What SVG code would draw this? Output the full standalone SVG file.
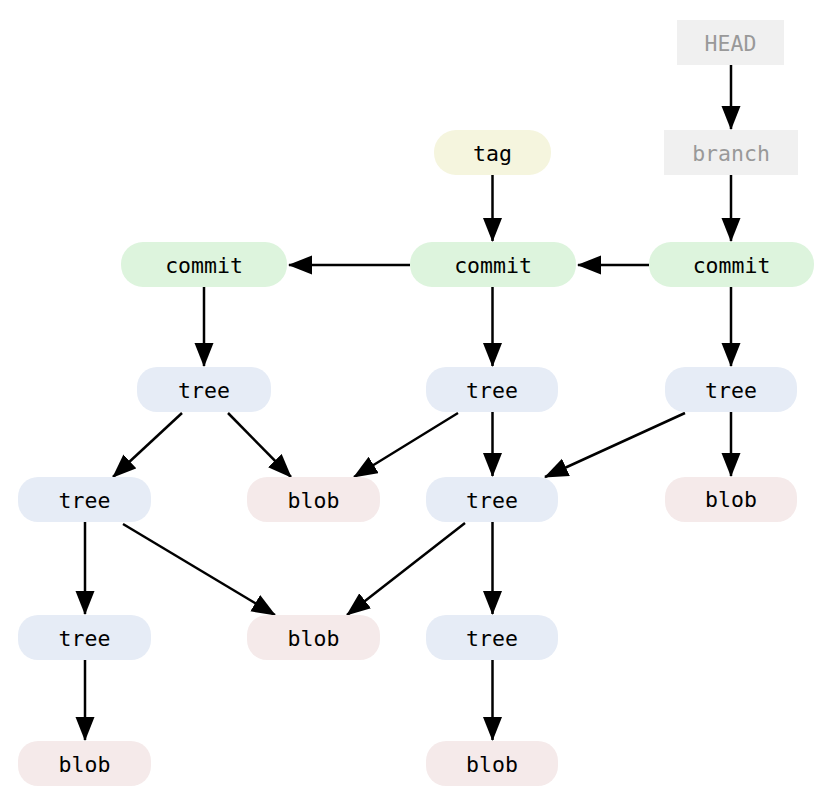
<svg xmlns="http://www.w3.org/2000/svg" width="824" height="805" viewBox="0 0 824 805">
<style>
  .lbl { font-family: "DejaVu Sans Mono", "Liberation Mono", monospace; font-size: 21.5px; text-anchor: middle; fill: #000; }
  .ref { fill: #f0f0f0; }
  .ref-t { fill: #999999; }
  .commit { fill: #ddf4dd; }
  .tree { fill: #e6ecf6; }
  .blob { fill: #f5eaea; }
  .tag { fill: #f5f5de; }
  .edge { stroke: #000; stroke-width: 2.5; fill: none; marker-end: url(#arr); }
</style>
<defs>
  <marker id="arr" markerUnits="userSpaceOnUse" markerWidth="24" markerHeight="20" refX="23" refY="9.5" orient="auto">
    <path d="M0,0 L24,9.5 L0,19 z" fill="#000"/>
  </marker>
</defs>
<rect width="824" height="805" fill="#fff"/>
<g id="connectors">
  <line class="edge" x1="731" y1="65" x2="731" y2="129"/>
  <line class="edge" x1="731" y1="175" x2="731" y2="241"/>
  <line class="edge" x1="492.5" y1="175" x2="492.5" y2="241"/>
  <line class="edge" x1="649" y1="265" x2="578" y2="265"/>
  <line class="edge" x1="410" y1="265" x2="289" y2="265"/>
  <line class="edge" x1="204" y1="287" x2="204" y2="366"/>
  <line class="edge" x1="492.5" y1="287" x2="492.5" y2="366"/>
  <line class="edge" x1="731" y1="287" x2="731" y2="366"/>
  <line class="edge" x1="182" y1="413" x2="113" y2="477"/>
  <line class="edge" x1="228" y1="413" x2="291" y2="477"/>
  <line class="edge" x1="458" y1="413" x2="354" y2="477"/>
  <line class="edge" x1="492.5" y1="412" x2="492.5" y2="476"/>
  <line class="edge" x1="685" y1="413" x2="545" y2="477"/>
  <line class="edge" x1="731" y1="412" x2="731" y2="476"/>
  <line class="edge" x1="85" y1="522" x2="85" y2="614"/>
  <line class="edge" x1="123" y1="524" x2="275" y2="615"/>
  <line class="edge" x1="465" y1="523" x2="347" y2="615"/>
  <line class="edge" x1="492.5" y1="522" x2="492.5" y2="614"/>
  <line class="edge" x1="85" y1="660" x2="85" y2="740"/>
  <line class="edge" x1="492.5" y1="660" x2="492.5" y2="740"/>
</g>
<g id="head"><rect class="ref" x="677" y="20" width="107" height="45"/><text class="lbl ref-t" x="730.5" y="50.5">HEAD</text></g>
<g id="branch"><rect class="ref" x="664" y="130" width="134" height="45"/><text class="lbl ref-t" x="731" y="160.5">branch</text></g>
<g id="tag"><rect class="tag" x="434" y="130" width="117" height="45" rx="22"/><text class="lbl" x="492.5" y="160.5">tag</text></g>
<g id="commit1"><rect class="commit" x="121" y="242" width="166" height="45" rx="22"/><text class="lbl" x="204" y="272.5">commit</text></g>
<g id="commit2"><rect class="commit" x="410" y="242" width="166" height="45" rx="22"/><text class="lbl" x="493" y="272.5">commit</text></g>
<g id="commit3"><rect class="commit" x="649" y="242" width="165" height="45" rx="22"/><text class="lbl" x="731.5" y="272.5">commit</text></g>
<g id="tree1"><rect class="tree" x="137" y="367" width="134" height="45" rx="20"/><text class="lbl" x="204" y="397.5">tree</text></g>
<g id="tree2"><rect class="tree" x="426" y="367" width="132" height="45" rx="20"/><text class="lbl" x="492" y="397.5">tree</text></g>
<g id="tree3"><rect class="tree" x="665" y="367" width="132" height="45" rx="20"/><text class="lbl" x="731" y="397.5">tree</text></g>
<g id="tree4"><rect class="tree" x="18" y="477" width="133" height="45" rx="20"/><text class="lbl" x="84.5" y="507.5">tree</text></g>
<g id="blob1"><rect class="blob" x="247" y="477" width="133" height="45" rx="20"/><text class="lbl" x="313.5" y="507.5">blob</text></g>
<g id="tree5"><rect class="tree" x="426" y="477" width="132" height="45" rx="20"/><text class="lbl" x="492" y="507.5">tree</text></g>
<g id="blob2"><rect class="blob" x="665" y="477" width="132" height="45" rx="20"/><text class="lbl" x="731" y="507">blob</text></g>
<g id="tree6"><rect class="tree" x="18" y="615" width="133" height="45" rx="20"/><text class="lbl" x="84.5" y="645.5">tree</text></g>
<g id="blob3"><rect class="blob" x="247" y="615" width="133" height="45" rx="20"/><text class="lbl" x="313.5" y="645.5">blob</text></g>
<g id="tree7"><rect class="tree" x="426" y="615" width="132" height="45" rx="20"/><text class="lbl" x="492" y="645.5">tree</text></g>
<g id="blob4"><rect class="blob" x="18" y="741" width="133" height="45" rx="20"/><text class="lbl" x="84.5" y="771.5">blob</text></g>
<g id="blob5"><rect class="blob" x="426" y="741" width="132" height="45" rx="20"/><text class="lbl" x="492" y="771.5">blob</text></g>
</svg>
